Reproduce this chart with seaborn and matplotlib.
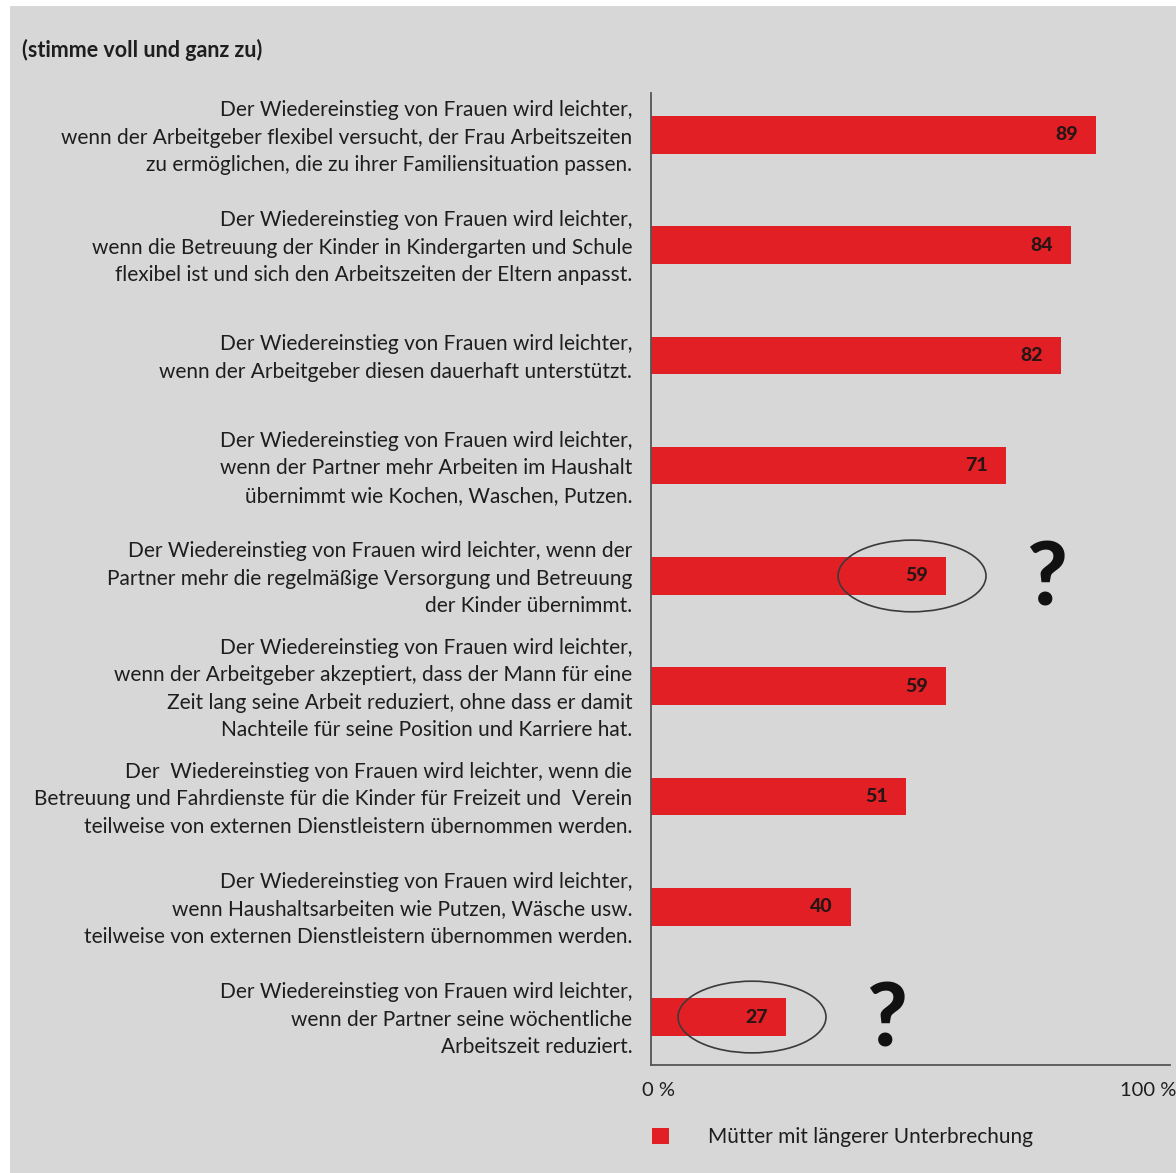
import matplotlib
matplotlib.use("Agg")
import matplotlib.pyplot as plt
from matplotlib.patches import Ellipse, Patch, Rectangle
from matplotlib.transforms import ScaledTranslation
import seaborn as sns
import pandas as pd

statements = [
    "Der Wiedereinstieg von Frauen wird leichter,\nwenn der Arbeitgeber flexibel versucht, der Frau Arbeitszeiten\nzu ermöglichen, die zu ihrer Familiensituation passen.",
    "Der Wiedereinstieg von Frauen wird leichter,\nwenn die Betreuung der Kinder in Kindergarten und Schule\nflexibel ist und sich den Arbeitszeiten der Eltern anpasst.",
    "Der Wiedereinstieg von Frauen wird leichter,\nwenn der Arbeitgeber diesen dauerhaft unterstützt.",
    "Der Wiedereinstieg von Frauen wird leichter,\nwenn der Partner mehr Arbeiten im Haushalt\nübernimmt wie Kochen, Waschen, Putzen.",
    "Der Wiedereinstieg von Frauen wird leichter, wenn der\nPartner mehr die regelmäßige Versorgung und Betreuung\nder Kinder übernimmt.",
    "Der Wiedereinstieg von Frauen wird leichter,\nwenn der Arbeitgeber akzeptiert, dass der Mann für eine\nZeit lang seine Arbeit reduziert, ohne dass er damit\nNachteile für seine Position und Karriere hat.",
    "Der  Wiedereinstieg von Frauen wird leichter, wenn die\nBetreuung und Fahrdienste für die Kinder für Freizeit und  Verein\nteilweise von externen Dienstleistern übernommen werden.",
    "Der Wiedereinstieg von Frauen wird leichter,\nwenn Haushaltsarbeiten wie Putzen, Wäsche usw.\nteilweise von externen Dienstleistern übernommen werden.",
    "Der Wiedereinstieg von Frauen wird leichter,\nwenn der Partner seine wöchentliche\nArbeitszeit reduziert.",
]
values = [89, 84, 82, 71, 59, 59, 51, 40, 27]
questioned = [4, 8]
series_name = "Mütter mit längerer Unterbrechung"
heading = "(stimme voll und ganz zu)"
x_ticks = [0, 100]
x_tick_labels = ["0 %", "100 %"]

RED = "#e31f26"
BG = "#d7d7d7"
TEXT = "#1e1e1e"
AXIS = "#555555"

sns.set_theme(style="white")
plt.rcParams["font.family"] = ["Lato", "DejaVu Sans"]

df = pd.DataFrame({"statement": statements, "value": values})

W, H = 1176, 1173
fig = plt.figure(figsize=(W / 100, H / 100), dpi=100, facecolor="white")
fig.patches.append(Rectangle((10 / W, 0), 1 - 10 / W, 1 - 6 / H,
                             transform=fig.transFigure, facecolor=BG,
                             edgecolor="none", zorder=-10))

ax = fig.add_axes([651 / W, 108 / H, (1170 - 651) / W, (1065 - 93) / H])
ax.set_facecolor("none")

sns.barplot(data=df, x="value", y="statement", orient="h", color=RED,
            width=0.34, saturation=1, linewidth=0, ax=ax)

ax.set_xlim(0, 103.8)
ax.set_ylim(len(values) - 1 + 0.435, -0.38)
ax.set_xlabel("")
ax.set_ylabel("")

for side in ("top", "right"):
    ax.spines[side].set_visible(False)
for side in ("left", "bottom"):
    ax.spines[side].set_color(AXIS)
    ax.spines[side].set_linewidth(1.3)

ax.set_xticks(x_ticks)
ax.set_xticklabels(x_tick_labels)
ax.tick_params(axis="x", length=0, pad=12, labelsize=14.5, labelcolor=TEXT)
ax.tick_params(axis="y", length=0, pad=13.5, labelsize=15, labelcolor=TEXT)
lift = ScaledTranslation(0, 3 / 100, fig.dpi_scale_trans)
for lab in ax.get_yticklabels():
    lab.set_horizontalalignment("right")
    lab.set_multialignment("right")
    lab.set_linespacing(1.47)
    lab.set_transform(lab.get_transform() + lift)

# nudge the percent labels: first one sits right of zero, last one stays inside
xlabs = ax.get_xticklabels()
xlabs[0].set_transform(xlabs[0].get_transform()
                       + ScaledTranslation(8 / 100, 0, fig.dpi_scale_trans))
xlabs[-1].set_transform(xlabs[-1].get_transform()
                        + ScaledTranslation(-3 / 100, 0, fig.dpi_scale_trans))

# end caps on both axis lines
ax.set_xticks([ax.get_xlim()[1]], minor=True)
ax.tick_params(axis="x", which="minor", direction="in", length=8,
               width=1.3, color=AXIS)
ax.set_yticks([ax.get_ylim()[1]], minor=True)
ax.tick_params(axis="y", which="minor", direction="inout", length=8,
               width=1.3, color=AXIS)

# value labels inside bar ends
for i, v in enumerate(values):
    ax.text(v - 3.6, i, str(v), ha="right", va="center", fontsize=14,
            fontweight="black", color="#2a1515")

# hand-drawn style emphasis on doubtful items
for i in questioned:
    v = values[i]
    ax.add_patch(Ellipse((v - 6.8, i), width=29.6, height=0.65,
                         fill=False, edgecolor="#3a3a3a", linewidth=1.2,
                         clip_on=False, zorder=5))
    ax.text(v + 20, i + 0.04, "?", ha="center", va="center", fontsize=63,
            fontweight="black", color="#111111", clip_on=False)

fig.text(22 / W, 1 - 50 / H, heading, ha="left", va="center",
         fontsize=15.5, fontweight="bold", color=TEXT)

leg = ax.legend(handles=[Patch(facecolor=RED, edgecolor="none", label=series_name)],
                loc="center left", bbox_to_anchor=(652 / W, 1 - 1137 / H),
                bbox_transform=fig.transFigure, frameon=False, fontsize=15,
                handlelength=0.8, handleheight=0.8, handletextpad=1.9,
                borderpad=0, borderaxespad=0)
for t in leg.get_texts():
    t.set_color(TEXT)

fig.savefig("out.png", dpi=100, facecolor=fig.get_facecolor())
